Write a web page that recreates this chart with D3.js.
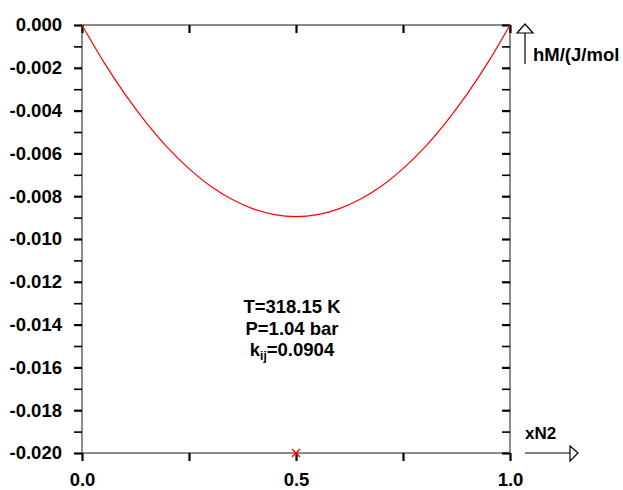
<!DOCTYPE html>
<html><head><meta charset="utf-8">
<script src="https://cdn.jsdelivr.net/npm/d3@7"></script>
<style>body{margin:0;background:#fff}svg{display:block}text{font-family:"Liberation Sans",Arial,sans-serif;font-weight:bold;fill:#000}</style>
</head><body>
<script>
const xValues = [0,0.05,0.1,0.15,0.2,0.25,0.3,0.35,0.4,0.45,0.5,0.55,0.6,0.65,0.7,0.75,0.8,0.85,0.9,0.95,1.0];
const hMValues = [0,-0.00170,-0.00322,-0.00456,-0.00573,-0.00671,-0.00752,-0.00814,-0.00859,-0.00886,-0.00895,-0.00886,-0.00859,-0.00814,-0.00752,-0.00671,-0.00573,-0.00456,-0.00322,-0.00170,0];
const yTickValues = [0,-0.002,-0.004,-0.006,-0.008,-0.010,-0.012,-0.014,-0.016,-0.018,-0.020];
const yMinorTicks = [-0.001,-0.003,-0.005,-0.007,-0.009,-0.011,-0.013,-0.015,-0.017,-0.019];
const xTickValues = [0,0.5,1.0];
const xMinorTicks = [0.25,0.75];
const markerPoint = [0.5,-0.020];
const annotations = ["T=318.15 K","P=1.04 bar"];
const kijValue = "0.0904";
const yTitle = "hM/(J/mol";
const xTitle = "xN2";

const W=623,H=490;
const m={l:82,r:510,t:25,b:453};
const FS="18.5px";
const svg=d3.select("body").append("svg").attr("width",W).attr("height",H);
const x=d3.scaleLinear().domain([0,1]).range([m.l,m.r]);
const y=d3.scaleLinear().domain([0,-0.02]).range([m.t,m.b]);
const fmtY=d=>d3.format(".3f")(d).replace("\u2212","-");

// frame
const axc="#666";
svg.append("rect").attr("x",m.l).attr("y",m.t).attr("width",m.r-m.l).attr("height",m.b-m.t)
  .attr("fill","none").attr("stroke",axc).attr("stroke-width",1.5);

// left axis
const gl=svg.append("g").attr("transform",`translate(${m.l},0)`)
  .call(d3.axisLeft(y).tickValues(yTickValues).tickFormat(fmtY).tickSize(8).tickPadding(12));
gl.select(".domain").remove();
gl.selectAll(".tick line").attr("stroke","#000").attr("stroke-width",2.2);
gl.selectAll(".tick text").style("font-size",FS).style("font-family","'Liberation Sans',Arial").style("font-weight","bold");
const glm=svg.append("g").attr("transform",`translate(${m.l},0)`)
  .call(d3.axisLeft(y).tickValues(yMinorTicks).tickFormat("").tickSize(8));
glm.select(".domain").remove();
glm.selectAll(".tick line").attr("stroke","#000").attr("stroke-width",1.6);

// right axis ticks inward
const gr=svg.append("g").attr("transform",`translate(${m.r},0)`)
  .call(d3.axisLeft(y).tickValues(yTickValues.concat(yMinorTicks)).tickFormat("").tickSize(8));
gr.select(".domain").remove();
gr.selectAll(".tick line").attr("stroke","#000").attr("stroke-width",(d)=>yTickValues.includes(d)?2.2:1.6);

// bottom axis
const gb=svg.append("g").attr("transform",`translate(0,${m.b})`)
  .call(d3.axisBottom(x).tickValues(xTickValues.concat(xMinorTicks)).tickFormat(d=>xTickValues.includes(d)?d3.format(".1f")(d):"").tickSize(8).tickPadding(12));
gb.select(".domain").remove();
gb.selectAll(".tick line").attr("stroke","#000").attr("stroke-width",2.2);
gb.selectAll(".tick text").style("font-size",FS).style("font-family","'Liberation Sans',Arial").style("font-weight","bold");

// top axis ticks inward
const gt=svg.append("g").attr("transform",`translate(0,${m.t})`)
  .call(d3.axisBottom(x).tickValues(xTickValues.concat(xMinorTicks)).tickFormat("").tickSize(8));
gt.select(".domain").remove();
gt.selectAll(".tick line").attr("stroke","#000").attr("stroke-width",2.2);

// curve
const line=d3.line().x((d,i)=>x(xValues[i])).y(d=>y(d)).curve(d3.curveCatmullRom);
svg.append("path").datum(hMValues).attr("d",line).attr("fill","none").attr("stroke","#ff0000").attr("stroke-width",1.2);

// marker x
const mx=x(markerPoint[0]),my=y(markerPoint[1]);
svg.append("path").attr("d",`M${mx-4},${my-4}L${mx+4},${my+4}M${mx-4},${my+4}L${mx+4},${my-4}`)
  .attr("stroke","#ff0000").attr("stroke-width",1.3);

// annotations
const ax=292;
annotations.forEach((t,i)=>{
  svg.append("text").attr("x",ax).attr("y",313+i*22).attr("text-anchor","middle").style("font-size",FS).text(t);
});
const kt=svg.append("text").attr("x",ax).attr("y",356).attr("text-anchor","middle").style("font-size",FS);
kt.append("tspan").text("k");
kt.append("tspan").attr("dy",4).style("font-size","12px").text("ij");
kt.append("tspan").attr("dy",-4).text("="+kijValue);

// y axis title with arrow
svg.append("line").attr("x1",525).attr("x2",525).attr("y1",33).attr("y2",64).attr("stroke","#000").attr("stroke-width",1.2);
svg.append("path").attr("d","M517,33L525,24L533,33Z").attr("fill","#fff").attr("stroke","#000").attr("stroke-width",1.2);
svg.append("text").attr("x",533).attr("y",61).style("font-size",FS).text(yTitle);

// x axis title with arrow
svg.append("line").attr("x1",525).attr("x2",570).attr("y1",453).attr("y2",453).attr("stroke","#000").attr("stroke-width",1.2);
svg.append("path").attr("d","M570,446L578,453L570,461Z").attr("fill","#fff").attr("stroke","#000").attr("stroke-width",1.2);
svg.append("text").attr("x",525).attr("y",439).style("font-size","17px").text(xTitle);
</script>
</body></html>
